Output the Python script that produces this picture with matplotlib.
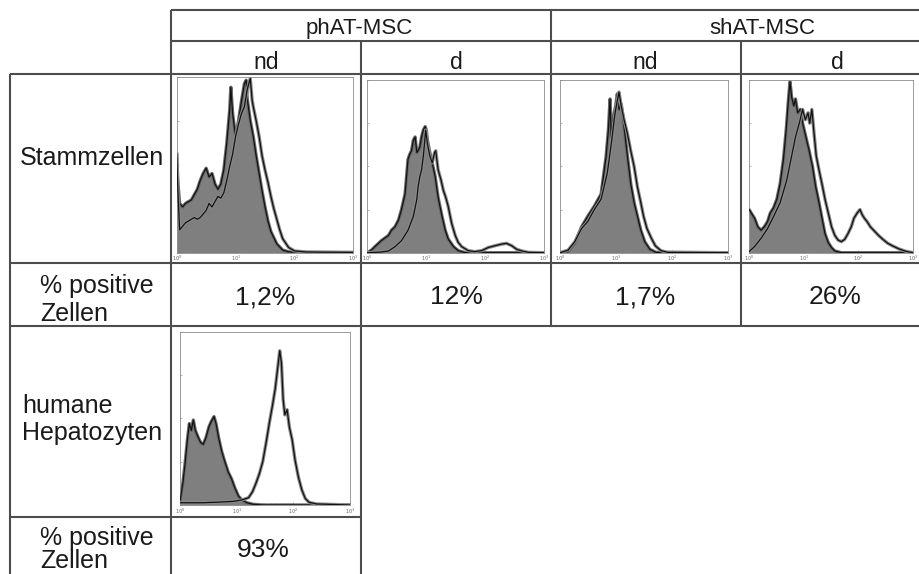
import matplotlib
matplotlib.use("Agg")
import matplotlib.pyplot as plt
import numpy as np

# ---------------- data ----------------
groups = ["phAT-MSC", "shAT-MSC"]
conditions = ["nd", "d", "nd", "d"]
row_labels = ["Stammzellen", "% positive\nZellen", "humane\nHepatozyten", "% positive\nZellen"]
stem_pct = ["1,2%", "12%", "1,7%", "26%"]
hep_pct = ["93%"]
decade_labels = ["$10^0$", "$10^1$", "$10^2$", "$10^3$"]

# histogram curves: x in log10 decades, y as fraction of the panel height
# iso = grey filled control curve, ab = open antibody curve
p1_iso_x = [0, 0.02, 0.05, 0.10, 0.15, 0.20, 0.25, 0.30, 0.35, 0.40, 0.45, 0.50, 0.55, 0.60, 0.65, 0.70, 0.75, 0.80, 0.85, 0.90,
            0.92, 0.95, 1.00, 1.05, 1.10, 1.15, 1.18, 1.20, 1.25, 1.30, 1.35, 1.40, 1.45, 1.50, 1.55, 1.60, 1.70, 1.80, 1.90, 2.00, 3.00]
p1_iso_y = [0.56, 0.40, 0.28, 0.26, 0.28, 0.29, 0.30, 0.33, 0.36, 0.41, 0.45, 0.48, 0.43, 0.45, 0.39, 0.36, 0.39, 0.47, 0.62, 0.81,
            0.94, 0.79, 0.66, 0.75, 0.86, 0.96, 0.98, 0.87, 0.75, 0.66, 0.55, 0.45, 0.35, 0.26, 0.18, 0.12, 0.05, 0.015, 0.005, 0.002, 0.0]
p1_ab_x = [0, 0.02, 0.05, 0.10, 0.15, 0.20, 0.25, 0.30, 0.35, 0.40, 0.45, 0.50, 0.55, 0.60, 0.65, 0.70, 0.75, 0.80, 0.85, 0.90,
           0.95, 1.00, 1.05, 1.10, 1.15, 1.20, 1.25, 1.28, 1.30, 1.35, 1.40, 1.45, 1.50, 1.55, 1.60, 1.65, 1.70, 1.75, 1.80, 1.90,
           2.00, 2.20, 2.50, 3.00]
p1_ab_y = [0.56, 0.35, 0.13, 0.15, 0.17, 0.18, 0.19, 0.20, 0.19, 0.20, 0.22, 0.24, 0.28, 0.26, 0.29, 0.32, 0.31, 0.34, 0.41, 0.49,
           0.56, 0.66, 0.73, 0.79, 0.83, 0.93, 0.99, 0.87, 0.83, 0.75, 0.66, 0.55, 0.47, 0.40, 0.32, 0.25, 0.19, 0.13, 0.08, 0.03,
           0.01, 0.004, 0.003, 0.002]

p2_iso_x = [0, 0.07, 0.13, 0.24, 0.36, 0.41, 0.47, 0.53, 0.58, 0.64, 0.69, 0.72, 0.75, 0.78, 0.81, 0.84, 0.86, 0.89, 0.92, 0.95,
            0.98, 1.00, 1.02, 1.06, 1.10, 1.15, 1.20, 1.26, 1.32, 1.37, 1.46, 1.54, 1.66, 3.0]
p2_iso_y = [0, 0.015, 0.035, 0.07, 0.10, 0.13, 0.15, 0.19, 0.25, 0.34, 0.54, 0.57, 0.59, 0.65, 0.67, 0.58, 0.59, 0.61, 0.67, 0.71,
            0.73, 0.71, 0.65, 0.58, 0.52, 0.44, 0.32, 0.22, 0.13, 0.08, 0.035, 0.012, 0.0, 0.0]
p2_ab_x = [0, 0.24, 0.36, 0.47, 0.58, 0.69, 0.78, 0.84, 0.86, 0.89, 0.92, 0.95, 0.99, 1.02, 1.06, 1.10, 1.14, 1.16, 1.20, 1.25,
           1.29, 1.33, 1.37, 1.43, 1.49, 1.54, 1.60, 1.71, 1.82, 1.94, 2.05, 2.16, 2.28, 2.36, 2.45, 2.53, 2.62, 2.73, 3.0]
p2_ab_y = [0, 0.004, 0.01, 0.035, 0.07, 0.13, 0.21, 0.31, 0.38, 0.44, 0.48, 0.56, 0.71, 0.63, 0.56, 0.52, 0.58, 0.59, 0.48, 0.42,
           0.36, 0.32, 0.27, 0.17, 0.10, 0.06, 0.035, 0.012, 0.006, 0.012, 0.03, 0.04, 0.05, 0.054, 0.04, 0.02, 0.01, 0.002, 0.0]

p3_iso_x = [0, 0.14, 0.26, 0.38, 0.49, 0.61, 0.73, 0.82, 0.86, 0.89, 0.91, 0.95, 0.99, 1.02, 1.05, 1.09, 1.14, 1.20, 1.26, 1.32,
            1.38, 1.44, 1.51, 1.60, 1.71, 3.0]
p3_iso_y = [0, 0.006, 0.054, 0.15, 0.21, 0.27, 0.34, 0.56, 0.71, 0.89, 0.67, 0.79, 0.85, 0.92, 0.83, 0.86, 0.73, 0.56, 0.40, 0.29,
            0.21, 0.13, 0.064, 0.02, 0.002, 0.0]
p3_ab_x = [0, 0.14, 0.26, 0.38, 0.49, 0.61, 0.73, 0.84, 0.92, 0.98, 1.02, 1.05, 1.09, 1.14, 1.20, 1.26, 1.32, 1.38, 1.44, 1.49,
           1.55, 1.63, 1.70, 1.80, 1.92, 3.0]
p3_ab_y = [0, 0.015, 0.064, 0.14, 0.18, 0.25, 0.31, 0.46, 0.65, 0.81, 0.88, 0.93, 0.85, 0.77, 0.69, 0.59, 0.50, 0.38, 0.29, 0.21,
           0.14, 0.083, 0.04, 0.012, 0.002, 0.0]

p4_iso_x = [0, 0.04, 0.10, 0.16, 0.22, 0.28, 0.34, 0.39, 0.45, 0.51, 0.57, 0.63, 0.68, 0.72, 0.75, 0.78, 0.82, 0.85, 0.89, 0.94,
            0.98, 1.04, 1.10, 1.16, 1.22, 1.28, 1.34, 1.39, 1.45, 1.51, 1.57, 1.69, 3.0]
p4_iso_y = [0.25, 0.23, 0.20, 0.15, 0.13, 0.15, 0.18, 0.23, 0.26, 0.31, 0.40, 0.54, 0.71, 0.88, 0.99, 0.90, 0.85, 0.89, 0.81, 0.83,
            0.75, 0.67, 0.59, 0.50, 0.38, 0.29, 0.19, 0.11, 0.058, 0.029, 0.01, 0.0, 0.0]
p4_ab_x = [0, 0.10, 0.22, 0.34, 0.45, 0.57, 0.69, 0.78, 0.85, 0.92, 0.98, 1.03, 1.08, 1.11, 1.15, 1.19, 1.23, 1.28, 1.34, 1.39,
           1.45, 1.51, 1.57, 1.63, 1.69, 1.75, 1.81, 1.87, 1.92, 1.98, 2.03, 2.07, 2.11, 2.16, 2.22, 2.28, 2.37, 2.45, 2.54, 2.63,
           2.75, 2.87, 3.0]
p4_ab_y = [0.006, 0.035, 0.083, 0.14, 0.21, 0.29, 0.42, 0.56, 0.67, 0.75, 0.83, 0.77, 0.81, 0.75, 0.83, 0.69, 0.56, 0.48, 0.39, 0.31,
           0.23, 0.15, 0.10, 0.073, 0.064, 0.077, 0.11, 0.15, 0.20, 0.23, 0.25, 0.22, 0.20, 0.18, 0.15, 0.13, 0.10, 0.077, 0.054, 0.039,
           0.021, 0.008, 0.0]

p5_iso_x = [0, 0.05, 0.09, 0.13, 0.165, 0.20, 0.235, 0.27, 0.32, 0.365, 0.41, 0.46, 0.51, 0.55, 0.60, 0.635, 0.68, 0.735, 0.79, 0.85,
            0.91, 0.97, 1.03, 1.09, 1.18, 1.29, 1.47, 3.0]
p5_iso_y = [0.02, 0.125, 0.24, 0.375, 0.47, 0.43, 0.49, 0.43, 0.39, 0.36, 0.35, 0.39, 0.45, 0.48, 0.51, 0.47, 0.39, 0.31, 0.25, 0.19,
            0.15, 0.096, 0.052, 0.029, 0.013, 0.004, 0.0, 0.0]
p5_ab_x = [0, 0.18, 0.41, 0.71, 0.94, 1.09, 1.21, 1.28, 1.34, 1.40, 1.46, 1.52, 1.58, 1.635, 1.68, 1.72, 1.76, 1.79, 1.82, 1.85,
           1.89, 1.93, 1.98, 2.03, 2.09, 2.15, 2.21, 2.28, 2.41, 3.0]
p5_ab_y = [0.013, 0.013, 0.013, 0.017, 0.021, 0.029, 0.042, 0.077, 0.125, 0.18, 0.25, 0.36, 0.48, 0.58, 0.67, 0.78, 0.89, 0.82, 0.61, 0.52,
           0.55, 0.45, 0.375, 0.26, 0.16, 0.087, 0.038, 0.015, 0.006, 0.0]

# ---------------- layout ----------------
W, H = 919, 574
FONT = ["Liberation Sans", "DejaVu Sans"]
LINE_C = "#4d4d4d"
LINE_W = 1.5
TXT_C = "#1a1a1a"

fig = plt.figure(figsize=(W / 100, H / 100), dpi=100)
fig.patch.set_facecolor("white")
bg = fig.add_axes([0, 0, 1, 1])
bg.set_xlim(0, W)
bg.set_ylim(H, 0)
bg.axis("off")

# table grid
hlines = [(10, 171, 919), (41, 171, 919), (74, 10, 919), (263, 10, 919), (326, 10, 919), (517, 10, 361)]
vlines = [(171, 10, 574), (361, 41, 574), (551, 10, 326), (741, 41, 326), (10, 74, 574)]
for y, x0, x1 in hlines:
    bg.plot([x0, x1], [y, y], color=LINE_C, lw=LINE_W, solid_capstyle="butt")
for x, y0, y1 in vlines:
    bg.plot([x, x], [y0, y1], color=LINE_C, lw=LINE_W, solid_capstyle="butt")

def txt(x, y, s, size, ha="center", va="baseline"):
    bg.text(x, y, s, fontsize=size, ha=ha, va=va, color=TXT_C, family=FONT)

# headers
txt(359, 34, groups[0], 16)
txt(762, 34, groups[1], 16)
for cx, s in zip([266, 456, 645, 837], conditions):
    txt(cx, 69, s, 16.5)

# row labels
txt(20, 165, row_labels[0], 18, ha="left")
l1, l2 = row_labels[1].split("\n")
txt(40, 293, l1, 18, ha="left")
txt(40, 321, l2, 18, ha="left")
l1, l2 = row_labels[2].split("\n")
txt(22, 413, l1, 18, ha="left")
txt(22, 440, l2, 18, ha="left")
l1, l2 = row_labels[3].split("\n")
txt(40, 545, l1, 18, ha="left")
txt(40, 568, l2, 18, ha="left")

# percentages
for cx, s in zip([265, 456, 645, 835], stem_pct):
    txt(cx, 304, s, 19)
txt(263, 557, hep_pct[0], 19)

# ---------------- histograms ----------------
def px_rect(x0, y0, x1, y1):
    return [x0 / W, 1 - y1 / H, (x1 - x0) / W, (y1 - y0) / H]

panels = [
    ((176.7, 76.7, 353.3, 252.7), p1_iso_x, p1_iso_y, p1_ab_x, p1_ab_y),
    ((367.3, 80.0, 544.3, 252.7), p2_iso_x, p2_iso_y, p2_ab_x, p2_ab_y),
    ((560.3, 80.0, 728.0, 252.7), p3_iso_x, p3_iso_y, p3_ab_x, p3_ab_y),
    ((749.0, 80.0, 913.0, 252.7), p4_iso_x, p4_iso_y, p4_ab_x, p4_ab_y),
    ((180.0, 331.7, 350.0, 505.0), p5_iso_x, p5_iso_y, p5_ab_x, p5_ab_y),
]

for rect, ix, iy, ox, oy in panels:
    ax = fig.add_axes(px_rect(*rect))
    ax.set_facecolor("none")
    xi = 10 ** np.array(ix)
    xo = 10 ** np.array(ox)
    ax.fill_between(xi, 0, iy, color="#7f7f7f", lw=0, zorder=1)
    ax.plot(xi, iy, color="#6a6a6a", lw=2.4, zorder=2)
    ax.plot(xi, iy, color="#111111", lw=0.9, zorder=3)
    ax.plot(xo, oy, color="#8a8a8a", lw=2.4, zorder=4)
    ax.plot(xo, oy, color="#111111", lw=0.9, zorder=5)
    ax.set_xscale("log")
    ax.set_xlim(1, 1000)
    ax.set_ylim(0, 1.0)
    for sp in ax.spines.values():
        sp.set_color("#8c8c8c")
        sp.set_linewidth(0.6)
    ax.set_xticks([1, 10, 100, 1000])
    ax.set_xticklabels(decade_labels)
    ax.set_yticks([0, 0.25, 0.5, 0.75, 1.0])
    ax.set_yticklabels([])
    ax.tick_params(axis="x", which="major", direction="in", length=2, width=0.4,
                   color="#777777", labelsize=3.5, labelcolor="#666666", pad=1)
    ax.tick_params(axis="x", which="minor", direction="in", length=1.2, width=0.3, color="#777777")
    ax.tick_params(axis="y", direction="in", length=1.5, width=0.4, color="#777777")

fig.savefig("out.png", dpi=100, facecolor="white")
